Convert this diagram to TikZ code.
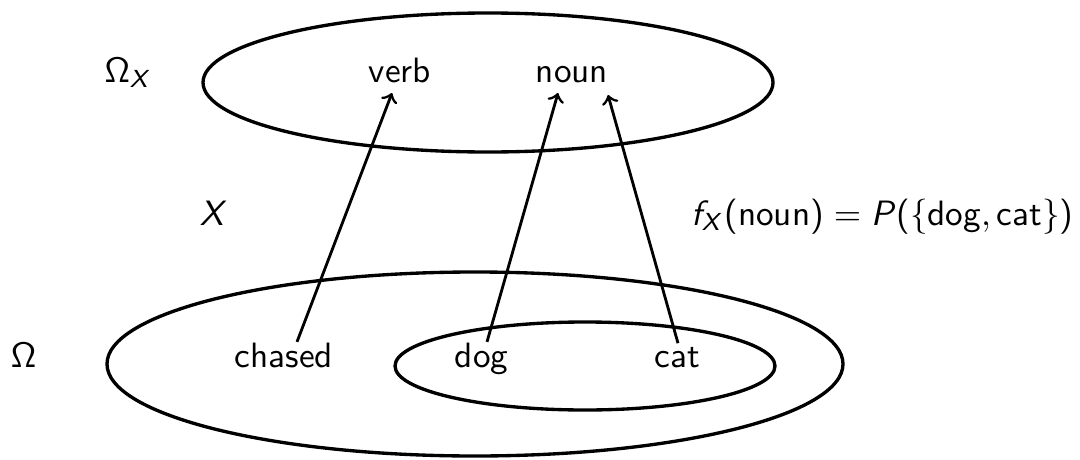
\documentclass[tikz,border=0pt]{standalone}
\usetikzlibrary{calc}
\DeclareMathAlphabet{\mathsfit}{OT1}{cmss}{m}{sl}
\tikzset{
  lbl/.style={inner sep=0pt, anchor=base, font=\normalsize\sffamily},
  setline/.style={line width=0.95pt},
  maparrow/.style={->, line width=0.8pt},
}
\begin{document}
\begin{tikzpicture}[x=0.284pt, y=-0.284pt]
\useasboundingbox (0,0) rectangle (1080,460);
% sets
\draw[setline] (488,82.5) ellipse [x radius=285, y radius=69.5];
\draw[setline] (475,364) ellipse [x radius=368, y radius=92];
\draw[setline] (585,366) ellipse [x radius=190, y radius=44];
% labels
\node[lbl] (omx) at (128.5,82) {$\mathsf{\Omega}_{\mathsfit{X}}$};
\node[lbl] (om) at (23.5,367) {$\mathsf{\Omega}$};
\node[lbl] (xl) at (214,225) {$\mathsfit{X}$};
\node[lbl, anchor=base east] (fx) at (1074,225)
  {$\mathsfit{f}_{\mathsfit{X}}\textsf{(noun)} = \mathsfit{P}\textsf{(}\{\textsf{dog},\textsf{cat}\}\textsf{)}$};
\node[lbl] (verb) at (400,82) {verb};
\node[lbl] (noun) at (572,82) {noun};
\node[lbl] (chased) at (284,367) {chased};
\node[lbl] (dog) at (481.5,367) {dog};
\node[lbl] (cat) at (677.5,367) {cat};
% mapping
\draw[maparrow] ($(chased.north)+(13,0)$) -- ($(verb.base)+(-8,11)$);
\draw[maparrow] ($(dog.north)+(5.5,0)$) -- ($(noun.base)+(-14,11)$);
\draw[maparrow] ($(cat.north)+(0.5,-3)$) -- ($(noun.base)+(36,13)$);
\end{tikzpicture}
\end{document}
